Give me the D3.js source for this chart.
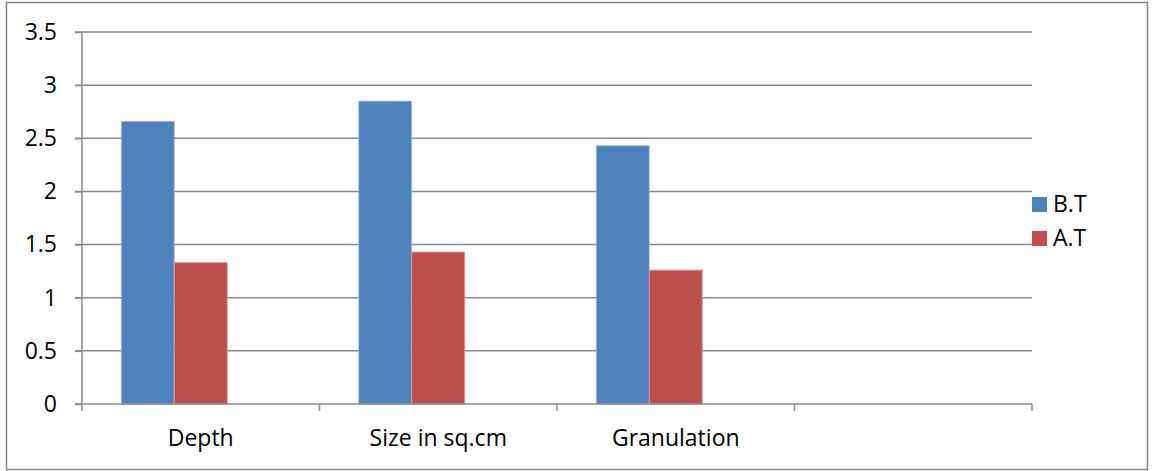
<!DOCTYPE html>
<html>
<head>
<meta charset="utf-8">
<script src="https://cdn.jsdelivr.net/npm/d3@7"></script>
<style>
  body { margin: 0; background: #fff; }
  text { font-family: "Open Sans", sans-serif; fill: #000; }
</style>
</head>
<body>
<svg width="1152" height="471"></svg>
<script>
// data
var categories = ["Depth", "Size in sq.cm", "Granulation", ""];
var seriesNames = ["B.T", "A.T"];
var btValues = [2.66, 2.85, 2.43];
var atValues = [1.33, 1.43, 1.26];
var yTicks = [0, 0.5, 1, 1.5, 2, 2.5, 3, 3.5];
var colors = ["#4F81BD", "#C0504D"];

var svg = d3.select('svg');
var fontSize = '23px';

// outer frame
svg.append('rect')
    .attr('x', 6.5).attr('y', 2.5)
    .attr('width', 1141).attr('height', 467)
    .attr('fill', 'none')
    .attr('stroke', '#888')
    .attr('stroke-width', 1.5);

var plotLeft = 82, plotRight = 1032, plotTop = 32, plotBottom = 404;

var x0 = d3.scaleBand().domain(categories).range([plotLeft, plotRight]);
// three slots per group, the third one is empty in the original chart
var x1 = d3.scaleBand().domain([0, 1, 2]).range([0, x0.bandwidth()]).paddingOuter(0.74);
var y = d3.scaleLinear().domain([0, 3.5]).range([plotBottom, plotTop]);

// gridlines
svg.append('g')
    .selectAll('line')
    .data(yTicks.filter(function(d){ return d > 0; }))
    .enter()
    .append('line')
    .attr('x1', plotLeft - 7).attr('x2', plotRight)
    .attr('y1', function(d){ return y(d); })
    .attr('y2', function(d){ return y(d); })
    .attr('stroke', '#8a8a8a')
    .attr('stroke-width', 1.5);

// bars
var rows = categories.slice(0, 3).map(function(c, i){
    return {cat: c, vals: [btValues[i], atValues[i]]};
});

var groups = svg.selectAll('.grp')
    .data(rows)
    .enter()
    .append('g')
    .attr('class', 'grp')
    .attr('transform', function(d){ return 'translate(' + x0(d.cat) + ',0)'; });

groups.selectAll('rect')
    .data(function(d){ return d.vals; })
    .enter()
    .append('rect')
    .attr('x', function(d, i){ return x1(i); })
    .attr('width', x1.bandwidth())
    .attr('y', function(d){ return y(d); })
    .attr('height', function(d){ return plotBottom - y(d); })
    .attr('fill', function(d, i){ return colors[i]; })
    .attr('stroke', function(d, i){ return i == 0 ? '#a9c1e0' : '#dc9c9a'; })
    .attr('stroke-width', 0.8);

// y axis
var yAxis = svg.append('g')
    .attr('transform', 'translate(' + plotLeft + ',0)')
    .call(d3.axisLeft(y).tickValues(yTicks).tickSize(7).tickPadding(18).tickFormat(d3.format('')));
yAxis.select('.domain').attr('stroke', '#8a8a8a').attr('stroke-width', 1.5)
    .attr('d', 'M0,' + plotTop + 'V' + plotBottom);
yAxis.selectAll('.tick line').attr('stroke', '#8a8a8a').attr('stroke-width', 1.5);
yAxis.selectAll('.tick text').style('font-size', fontSize).style('font-family', '"Open Sans", sans-serif').attr('fill', '#000');

// x axis, ticks sit on the category boundaries
var xAxis = svg.append('g')
    .attr('transform', 'translate(0,' + plotBottom + ')');
xAxis.append('line')
    .attr('x1', plotLeft - 7).attr('x2', plotRight)
    .attr('stroke', '#8a8a8a').attr('stroke-width', 1.5);
var bounds = categories.map(function(c){ return x0(c); }).concat([plotRight]);
xAxis.selectAll('.xt')
    .data(bounds)
    .enter()
    .append('line')
    .attr('x1', function(d){ return d; }).attr('x2', function(d){ return d; })
    .attr('y1', 0).attr('y2', 7)
    .attr('stroke', '#8a8a8a').attr('stroke-width', 1.5);
xAxis.selectAll('.xl')
    .data(categories)
    .enter()
    .append('text')
    .attr('x', function(d){ return x0(d) + x0.bandwidth() / 2; })
    .attr('y', 42)
    .attr('text-anchor', 'middle')
    .style('font-size', fontSize)
    .text(function(d){ return d; });

// legend
var legend = svg.selectAll('.leg')
    .data(seriesNames)
    .enter()
    .append('g')
    .attr('transform', function(d, i){ return 'translate(1032,' + (197 + i * 34) + ')'; });
legend.append('rect')
    .attr('width', 15).attr('height', 15)
    .attr('fill', function(d, i){ return colors[i]; });
legend.append('text')
    .attr('x', 21).attr('y', 15)
    .style('font-size', fontSize)
    .text(function(d){ return d; });
</script>
</body>
</html>
